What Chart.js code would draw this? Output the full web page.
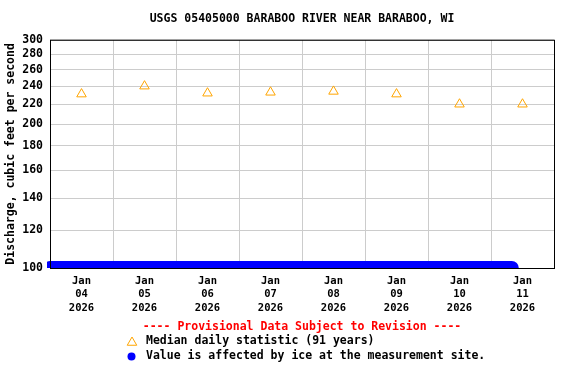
<!DOCTYPE html>
<html>
<head>
<meta charset="utf-8">
<script src="https://cdn.jsdelivr.net/npm/chart.js@4.4.1/dist/chart.umd.min.js"></script>
<style>
  html, body { margin: 0; padding: 0; background: #fff; }
</style>
</head>
<body>
<canvas id="chart" width="576" height="384"></canvas>
<script>
// days counted from Jan 04 2026 00:00
const dayLabels = [
  ["Jan", "04", "2026"], ["Jan", "05", "2026"], ["Jan", "06", "2026"], ["Jan", "07", "2026"],
  ["Jan", "08", "2026"], ["Jan", "09", "2026"], ["Jan", "10", "2026"], ["Jan", "11", "2026"],
];
const labelDays = [0.5, 1.5, 2.5, 3.5, 4.5, 5.5, 6.5, 7.5];
const gridDays = [0, 1, 2, 3, 4, 5, 6, 7, 8];
const medianValues = [231, 240, 232, 233, 234, 231, 220, 220];
const iceDays = [0, 7.33];
const iceValues = [100, 100];
const yTicks = [100, 120, 140, 160, 180, 200, 220, 240, 260, 280, 300];

const FONT = "'DejaVu Sans Mono', monospace";
Chart.defaults.font.family = FONT;
Chart.defaults.font.weight = "bold";
Chart.defaults.color = "#000";

const framePlugin = {
  id: "frame",
  afterDatasetsDraw(chart) {
    const { ctx, chartArea: a } = chart;
    ctx.save();
    ctx.strokeStyle = "#000";
    ctx.lineWidth = 1;
    ctx.strokeRect(a.left + 0.5, a.top + 0.5, a.right - a.left, a.bottom - a.top);
    ctx.restore();
  },
};

const notePlugin = {
  id: "notes",
  afterDraw(chart) {
    const { ctx, chartArea: a } = chart;
    ctx.save();
    ctx.font = "bold 11.5px " + FONT;
    ctx.textBaseline = "middle";
    ctx.textAlign = "center";
    ctx.fillStyle = "#FF0000";
    ctx.fillText("---- Provisional Data Subject to Revision ----", (a.left + a.right) / 2, 327);

    ctx.textAlign = "left";
    ctx.fillStyle = "#000";
    ctx.fillText("Median daily statistic (91 years)", 146, 341);
    ctx.fillText("Value is affected by ice at the measurement site.", 146, 356);

    ctx.strokeStyle = "#FFA500";
    ctx.fillStyle = "rgba(0,0,0,0)";
    ctx.lineWidth = 1;
    Chart.helpers.drawPoint(ctx, { pointStyle: "triangle", radius: 5.5, borderWidth: 1, rotation: 0 }, 132, 342.5);

    ctx.fillStyle = "#0000FF";
    ctx.beginPath();
    ctx.arc(131.5, 356.5, 4, 0, Math.PI * 2);
    ctx.fill();
    ctx.restore();
  },
};

new Chart(document.getElementById("chart"), {
  type: "line",
  data: {
    datasets: [
      {
        label: "Median daily statistic (91 years)",
        data: medianValues.map((v, i) => ({ x: labelDays[i], y: v })),
        showLine: false,
        pointStyle: "triangle",
        pointRadius: 5.5,
        pointBorderWidth: 1,
        borderColor: "#FFA500",
        backgroundColor: "rgba(0,0,0,0)",
      },
      {
        label: "Value is affected by ice at the measurement site.",
        data: iceDays.map((d, i) => ({ x: d, y: iceValues[i] })),
        borderColor: "#0000FF",
        borderWidth: 14,
        borderCapStyle: "round",
        pointRadius: 0,
        clip: { left: 3, right: 10, top: 0, bottom: 0 },
      },
    ],
  },
  options: {
    responsive: false,
    animation: false,
    layout: {
      padding: { left: 0, right: 22, top: 0, bottom: 70 },
    },
    plugins: {
      legend: { display: false },
      tooltip: { enabled: false },
      title: {
        display: true,
        fullSize: false,
        text: "USGS 05405000 BARABOO RIVER NEAR BARABOO, WI",
        font: { size: 11.5, weight: "bold" },
        color: "#000",
        padding: { top: 12, bottom: 14 },
      },
    },
    scales: {
      x: {
        type: "linear",
        min: 0,
        max: 8,
        afterBuildTicks: (axis) => {
          axis.ticks = gridDays.concat(labelDays).sort((p, q) => p - q).map((v) => ({ value: v }));
        },
        afterFit: (axis) => {
          axis.height = 46;
        },
        ticks: {
          autoSkip: false,
          maxRotation: 0,
          padding: 7,
          font: { size: 10.5, weight: "bold", lineHeight: 1.25 },
          callback: (value) => {
            const i = labelDays.indexOf(value);
            return i >= 0 ? dayLabels[i] : "";
          },
        },
        grid: {
          drawTicks: false,
          color: (ctx) => (gridDays.includes(ctx.tick.value) ? "#CCCCCC" : "rgba(0,0,0,0)"),
        },
        border: { display: false },
      },
      y: {
        type: "logarithmic",
        min: 100,
        max: 300,
        afterBuildTicks: (axis) => {
          axis.ticks = yTicks.map((v) => ({ value: v }));
        },
        afterFit: (axis) => {
          axis.width = 50;
        },
        ticks: {
          padding: 7,
          font: { size: 11.5, weight: "bold" },
          callback: (value) => String(value),
        },
        grid: {
          drawTicks: false,
          color: "#CCCCCC",
        },
        border: { display: false },
        title: {
          display: true,
          text: "Discharge, cubic feet per second",
          font: { size: 11.5, weight: "bold" },
          padding: { top: 4, bottom: 0 },
        },
      },
    },
  },
  plugins: [framePlugin, notePlugin],
});
</script>
</body>
</html>
